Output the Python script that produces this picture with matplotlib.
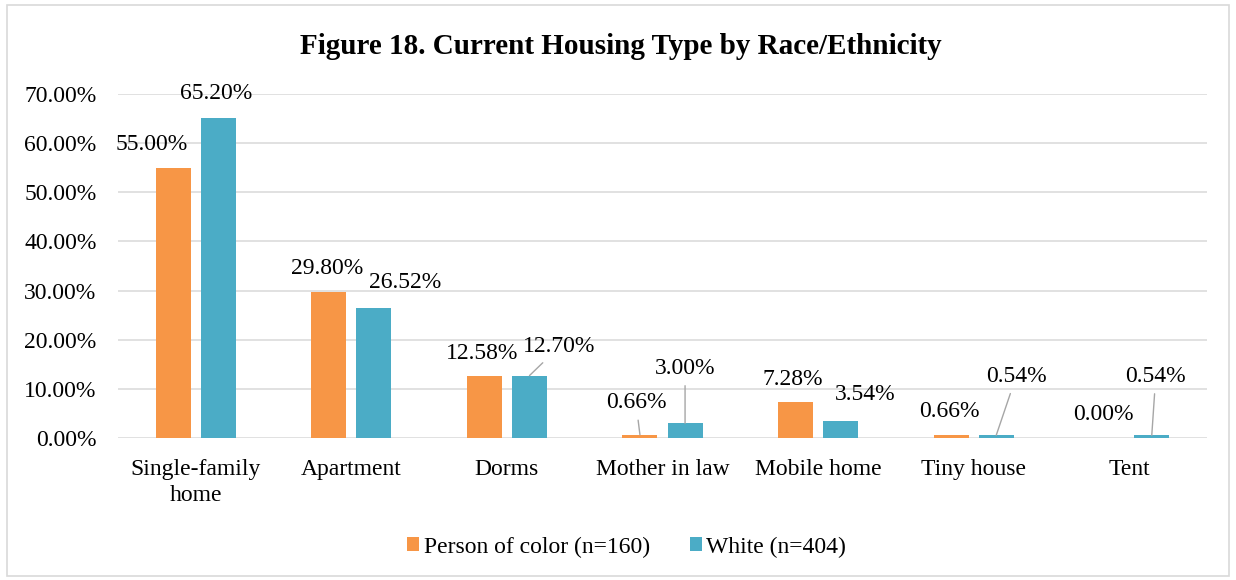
import matplotlib.pyplot as plt
import numpy as np

# Data
categories = ["Single-family\nhome", "Apartment", "Dorms", "Mother in law",
              "Mobile home", "Tiny house", "Tent"]
poc_values = [55.00, 29.80, 12.58, 0.66, 7.28, 0.66, 0.00]
white_values = [65.20, 26.52, 12.70, 3.00, 3.54, 0.54, 0.54]
series_names = ["Person of color (n=160)", "White (n=404)"]
y_ticks = [0, 10, 20, 30, 40, 50, 60, 70]

# label offsets from the top of each bar (pixels), and whether a leader line is drawn
poc_offsets = [(-22, 23), (-2, 23), (-2, 23), (-4, 32), (-3, 23), (-2, 23), (-3, 24)]
poc_leader = [False, False, False, True, False, False, False]
white_offsets = [(-2, 24), (31, 25), (30, 29), (0, 55), (25, 26), (20, 59), (4, 59)]
white_leader = [False, False, True, True, False, True, True]

plt.rcParams['font.family'] = ['Liberation Serif', 'DejaVu Serif']
FS = 17

fig = plt.figure(figsize=(12.36, 5.8), dpi=100)
ax = fig.add_axes([118 / 1236, 1 - 438 / 580, (1207 - 118) / 1236, (438 - 94) / 580])

x = np.arange(len(categories))
w = 0.225
off = 0.145
orange = '#F79646'
teal = '#4BACC6'

b1 = ax.bar(x - off, poc_values, w, color=orange, label=series_names[0], zorder=3)
b2 = ax.bar(x + off, white_values, w, color=teal, label=series_names[1], zorder=3)

ax.set_xlim(-0.5, len(categories) - 0.5)
ax.set_ylim(0, 70)
ax.set_yticks(y_ticks)
ax.set_yticklabels([f"{t:.2f}%" for t in y_ticks], fontsize=FS)
ax.set_xticks(x)
ax.set_xticklabels(categories, fontsize=FS, linespacing=1.3)
ax.tick_params(axis='y', length=0, pad=15.5)
ax.tick_params(axis='x', length=0, pad=15)
ax.grid(axis='y', color='#D9D9D9', lw=1.1, zorder=0)
for s in ax.spines.values():
    s.set_visible(False)


def add_labels(xs, vals, offsets, leaders):
    for xi, v, (dx, dy), lead in zip(xs, vals, offsets, leaders):
        kw = {}
        if lead:
            kw['arrowprops'] = dict(arrowstyle='-', color='#A6A6A6', lw=1.0,
                                    shrinkA=3, shrinkB=0)
        ax.annotate(f"{v:.2f}%", xy=(xi, v), xytext=(dx, dy),
                    textcoords='offset pixels', ha='center', va='center',
                    fontsize=FS, color='#000000', zorder=5, **kw)


add_labels(x - off, poc_values, poc_offsets, poc_leader)
add_labels(x + off, white_values, white_offsets, white_leader)

fig.text(0.502, 1 - 46 / 580, "Figure 18. Current Housing Type by Race/Ethnicity",
         ha='center', va='center', fontsize=21, fontweight='bold')

fig.legend(handles=[b1, b2], loc='center', bbox_to_anchor=(0.507, 1 - 547 / 580),
           ncol=2, frameon=False, fontsize=FS, handlelength=0.5, handleheight=0.5,
           handletextpad=0.2, columnspacing=1.7)

fig.add_artist(plt.Rectangle((7 / 1236, 4 / 580), 1222 / 1236, 571 / 580,
                             transform=fig.transFigure, fill=False,
                             edgecolor='#D9D9D9', lw=1.2))

fig.savefig('out.png', dpi=100)
